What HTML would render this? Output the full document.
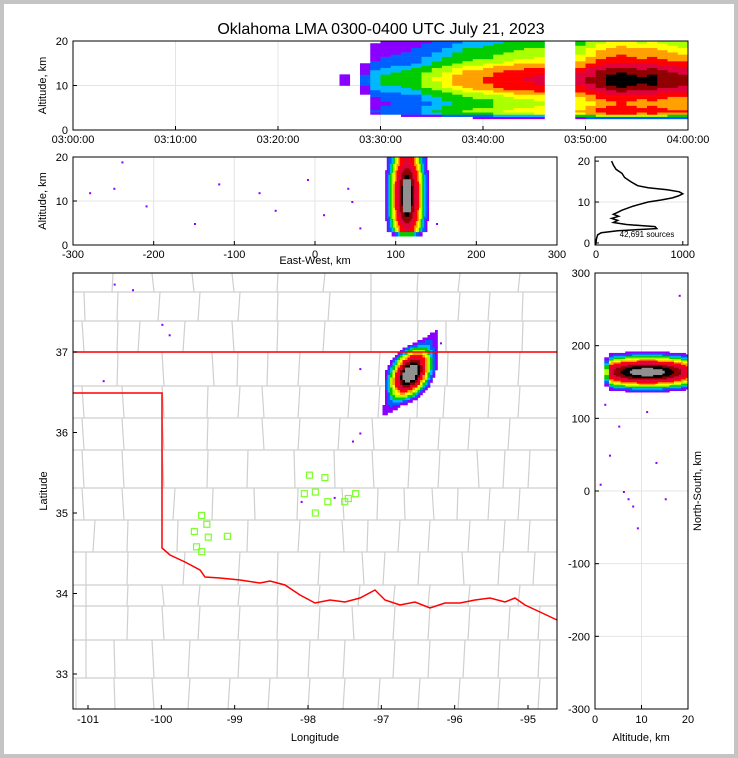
<!DOCTYPE html>
<html><head><meta charset="utf-8"><style>
html,body{margin:0;padding:0;background:#fff}
#wrap{position:relative;width:738px;height:758px;box-sizing:border-box;border:4px solid #c4c4c4;background:#fff;overflow:hidden}
svg text{font-family:"Liberation Sans",sans-serif;fill:#000}
</style></head><body>
<div id="wrap">
<svg id="s" width="730" height="750" viewBox="4 4 730 750" xmlns="http://www.w3.org/2000/svg">
<text x="381" y="34" font-size="16" text-anchor="middle">Oklahoma LMA 0300-0400 UTC July 21, 2023</text>
<g id="g"></g>
</svg>
</div>
<script>
// ---- data ----
const timeTicks = ["03:00:00","03:10:00","03:20:00","03:30:00","03:40:00","03:50:00","04:00:00"];
const timeIntensity = [0,0,0,0,0,0,0,0,0,0,0,0.02,0,0,0,0,0,0,0.03,0,0,0,0.06,0.05,0.08,0.1,0.12,0.08,0.2,0.35,0.4,0.42,0.45,0.5,0.6,0.7,0.8,0.9,1.0,1.05,1.1,1.2,1.3,1.35,1.4,1.45,0,0,0,1.5,1.8,2.1,2.3,2.4,2.3,2.2,2.3,2.1,2.0,1.9];
const altProfileKm = [0,1,2,3,4,5,6,7,8,9,10,11,12,13,14,15,16,17,18,19,20];
const altProfileRel = [0,0,0,0.15,0.6,0.5,0.45,0.5,0.6,0.8,0.95,1.0,1.0,0.9,0.75,0.6,0.5,0.45,0.4,0.35,0.3];
const ewTicks = [-300,-200,-100,0,100,200,300];
const histAlt = [0,1,2,2.5,3,3.5,4,4.5,5,5.5,6,6.5,7,7.5,8,9,10,10.5,11,11.5,12,12.5,13,13.5,14,15,16,17,18,19,20];
const histCount = [0,5,20,60,250,700,680,350,200,250,180,260,200,250,300,430,600,750,880,950,1000,960,820,600,480,400,330,300,230,200,180];
const srcLabel = "42,691 sources";
const lonTicks = [-101,-100,-99,-98,-97,-96,-95];
const latTicks = [33,34,35,36,37];
const nsTicks = [-300,-200,-100,0,100,200,300];
const altTicks = [0,10,20];
const stormLon = -96.62, stormLat = 36.75;
const ewCenter = 113, ewWidth = 11;
const nsCenter = 163, nsWidth = 11;
const stationsLon = [-99.55,-99.45,-99.38,-99.36,-99.52,-99.45,-99.1,-97.98,-97.77,-97.9,-98.05,-97.73,-97.9,-97.5,-97.35,-97.45];
const stationsLat = [34.77,34.97,34.86,34.70,34.58,34.52,34.71,35.47,35.44,35.26,35.24,35.14,35.0,35.14,35.24,35.18];
const sparseLon = [-100.4,-100.65,-99.9,-96.2,-97.3,-97.65,-98.1,-100.8,-100.0,-97.4,-97.3];
const sparseLat = [37.78,37.85,37.22,37.12,36.8,35.2,35.15,36.65,37.35,35.9,36.0];
const sparseEW = [-250,-210,-150,-120,-70,-50,-10,10,40,45,55,-280,-240,150];
const sparseEWalt = [13,9,5,14,12,8,15,7,13,10,4,12,19,5];
const sparseNSalt = [1,3,5,7,9,11,13,2,6,8,15,18];
const sparseNS = [10,50,90,-10,-50,110,40,120,0,-20,-10,270];

// ---- helpers ----
const NS='http://www.w3.org/2000/svg';
const G=document.getElementById('g');
function el(tag,attrs,parent){const e=document.createElementNS(NS,tag);for(const k in attrs)e.setAttribute(k,attrs[k]);(parent||G).appendChild(e);return e;}
function lin(d0,d1,r0,r1){return v=>r0+(v-d0)*(r1-r0)/(d1-d0);}
const cmap=[[0.15,'#8a00ff'],[0.25,'#0060ff'],[0.38,'#00b8ff'],[0.5,'#00cc00'],[0.7,'#aaff00'],[0.9,'#ffff00'],[1.1,'#ffa000'],[1.4,'#ff0000'],[1.8,'#e0003c'],[2.3,'#900000'],[2.8,'#000000'],[3.3,'#909090'],[99,'#ffffff']];
function col(d){if(d<cmap[0][0])return null;for(let i=cmap.length-1;i>=0;i--){if(d>=cmap[i][0])return cmap[i][1];}return null;}
function interp(xs,ys,x){if(x<=xs[0])return ys[0];for(let i=1;i<xs.length;i++){if(x<=xs[i]){const t=(x-xs[i-1])/(xs[i]-xs[i-1]);return ys[i-1]+t*(ys[i]-ys[i-1]);}}return ys[ys.length-1];}
function frame(x,y,w,h,name){const r=el('rect',{x,y,width:w,height:h,fill:'none',stroke:'#000','stroke-width':1});}
function txt(x,y,s,anchor,size,name,rot){const t=el('text',{x,y,'font-size':size||11,'text-anchor':anchor||'middle'});if(rot)t.setAttribute('transform',`rotate(-90 ${x} ${y})`);t.textContent=s;return t;}
function grid(x1,y1,x2,y2){const l=el('line',{x1,y1,x2,y2,stroke:'#e4e4e4','stroke-width':1});}
function tick(x1,y1,x2,y2){const l=el('line',{x1,y1,x2,y2,stroke:'#000','stroke-width':1});}
function cell(x,y,w,h,c,name){const r=el('rect',{x,y,width:w,height:h,fill:c});}

// ---- Panel 1: time-altitude ----
{const X0=73,X1=688,Y0=41,Y1=130;
const tx=lin(0,60,X0,X1), ay=lin(0,20,Y1,Y0);
for(let i=0;i<timeTicks.length;i++){grid(tx(i*10),Y0,tx(i*10),Y1);}
grid(X0,ay(10),X1,ay(10));
for(let m=0;m<60;m++){const I=timeIntensity[m];if(!I)continue;
 for(let a=0;a<20;a+=0.5){const d=I*interp(altProfileKm,altProfileRel,a+0.25)*1.3;const c=col(d);if(c)cell(tx(m),ay(a+0.5),tx(m+1)-tx(m)+0.3,ay(a)-ay(a+0.5)+0.3,c,'source-density-cell');}}
frame(X0,Y0,X1-X0,Y1-Y0,'time-altitude-panel');
timeTicks.forEach((s,i)=>{tick(tx(i*10),Y1,tx(i*10),Y1-4);txt(tx(i*10),Y1+13,s,'middle',11,'time-tick-label');});
altTicks.forEach(v=>{tick(X0,ay(v),X0+4,ay(v));txt(X0-5,ay(v)+4,String(v),'end',11,'altitude-tick-label');});
txt(46,(Y0+Y1)/2,'Altitude, km','middle',11,'y-axis-title',true);}

// ---- Panel 2: EW-altitude ----
{const X0=73,X1=557,Y0=157,Y1=245;
const ex=lin(-300,300,X0,X1), ay=lin(0,20,Y1,Y0);
ewTicks.forEach(v=>grid(ex(v),Y0,ex(v),Y1));grid(X0,ay(10),X1,ay(10));
for(let k=0;k<sparseEW.length;k++)cell(ex(sparseEW[k]),ay(sparseEWalt[k]),2,2,'#8a00ff','sparse-source');
for(let e=ewCenter-40;e<ewCenter+40;e+=2){for(let a=2;a<20;a+=0.5){
 const dx=(e-ewCenter)/ewWidth, da=(a-11)/5;
 const core=Math.abs(dx)<0.4&&a>7&&a<15?1.25:1;
 const d=3.4*Math.exp(-dx*dx/2)*(a<3?0.35:1)*Math.max(0.55,1-0.2*da*da)*core;
 const c=col(d);if(c)cell(ex(e),ay(a+0.5),ex(e+2)-ex(e)+0.3,ay(a)-ay(a+0.5)+0.3,c,'ew-density-cell');}}
frame(X0,Y0,X1-X0,Y1-Y0,'east-west-panel');
ewTicks.forEach(v=>{tick(ex(v),Y1,ex(v),Y1-4);txt(ex(v),Y1+13,String(v),'middle',11,'ew-tick-label');});
altTicks.forEach(v=>{tick(X0,ay(v),X0+4,ay(v));txt(X0-5,ay(v)+4,String(v),'end',11,'altitude-tick-label');});
txt(46,(Y0+Y1)/2,'Altitude, km','middle',11,'y-axis-title',true);
txt(315,264,'East-West, km','middle',11,'x-axis-title');}

// ---- Panel 3: altitude histogram ----
{const X0=595,X1=688,Y0=157,Y1=245;
const hx=lin(0,1060,X0+1,X1), ay=lin(-0.5,21,Y1,Y0);
grid(X0,ay(10),X1,ay(10));
let d='';histAlt.forEach((a,i)=>{d+=(i?'L':'M')+hx(histCount[i]).toFixed(1)+','+ay(a).toFixed(1);});
const p=el('path',{d,fill:'none',stroke:'#000','stroke-width':1.5});
frame(X0,Y0,X1-X0,Y1-Y0,'altitude-histogram-panel');
[0,1000].forEach(v=>{tick(hx(v),Y1,hx(v),Y1-4);txt(hx(v),Y1+13,String(v),'middle',11,'count-tick-label');});
altTicks.forEach(v=>{tick(X0,ay(v),X0+4,ay(v));txt(X0-5,ay(v)+4,String(v),'end',11,'altitude-tick-label');});
txt(647,237,srcLabel,'middle',8,'source-count-label');}

// ---- Panel 4: map ----
{const X0=73,X1=557,Y0=273,Y1=709;
const lx=lin(-101,-95,88,528), ly=lin(33,37,674,352);
const cg=el('g',{fill:'none',stroke:'#cfcfcf','stroke-width':1.2});
const bands=[[273,292,[113,152,192,232,278,325,371,418,460,520]],[292,321,[84,118,160,200,240,278,330,371,418,460,490,523]],[321,352,[82,118,140,185,232,278,325,371,418,446,490,523]],[352,386,[118,162,212,238,268,300,350,380,418,448,490,520]],[386,418,[82,122,162,208,240,262,300,350,380,418,445,490,520]],[418,450,[82,122,162,208,262,300,340,372,410,440,470,510]],[450,488,[82,122,162,208,248,294,334,372,410,440,477,505,530]],[488,520,[82,122,175,213,254,298,342,378,404,432,458,490,520]],[520,552,[95,128,178,248,300,342,368,400,430,470,505,530]],[552,585,[86,128,185,240,278,320,362,385,420,462,500,535]],[585,606,[86,128,162,200,240,278,320,360,395,430,470,520]],[606,640,[86,128,162,200,240,278,320,352,395,430,470,510,540]],[640,678,[86,114,152,190,240,278,310,345,395,430,465,500,540]],[678,709,[76,114,152,190,230,270,310,345,380,420,460,500,540]]];
bands.forEach(b=>{el('line',{x1:X0,y1:b[0],x2:X1,y2:b[0]},cg);b[2].forEach(x=>el('line',{x1:x,y1:b[0],x2:x+((x*7)%5-2),y2:b[1]},cg));});
for(let k=0;k<sparseLon.length;k++)cell(lx(sparseLon[k]),ly(sparseLat[k]),2,2,'#8a00ff','sparse-source');
const ux=Math.cos(-1.0),uy=Math.sin(-1.0);
for(let px=360;px<450;px+=2.5){for(let py=310;py<430;py+=2.5){
 const dx=px-lx(stormLon), dy=py-ly(stormLat);
 const along=dx*ux+dy*uy, across=-dx*uy+dy*ux;
 const d=3.9*Math.exp(-(along*along)/(2*13*13)-(across*across)/(2*9*9))+0.35*Math.exp(-(along*along)/(2*38*38)-(across*across)/(2*6*6));
 const c=col(d);if(c)cell(px,py,2.8,2.8,c,'map-density-cell');}}
const red='M73,352L557,352M73,393L162,393L162,548L170,555L185,562L200,570L205,577L220,578L240,580L260,583L270,581L285,585L300,595L315,603L330,600L345,602L360,598L375,590L385,600L400,605L415,602L430,608L445,603L460,603L475,600L490,598L505,602L515,598L525,605L540,612L557,620';
const r=el('path',{d:red,fill:'none',stroke:'#ff0000','stroke-width':1.5});
for(let k=0;k<stationsLon.length;k++){const s=el('rect',{x:lx(stationsLon[k])-3,y:ly(stationsLat[k])-3,width:6,height:6,fill:'none',stroke:'#7cff2a','stroke-width':1.2});}
frame(X0,Y0,X1-X0,Y1-Y0,'map-panel');
lonTicks.forEach(v=>{tick(lx(v),Y1,lx(v),Y1-4);txt(lx(v),Y1+14,String(v),'middle',11,'longitude-tick-label');});
latTicks.forEach(v=>{tick(X0,ly(v),X0+4,ly(v));txt(X0-5,ly(v)+4,String(v),'end',11,'latitude-tick-label');});
txt(315,741,'Longitude','middle',11,'x-axis-title');
txt(47,491,'Latitude','middle',11,'y-axis-title',true);}

// ---- Panel 5: altitude vs NS ----
{const X0=595,X1=688,Y0=273,Y1=709;
const ax=lin(0,20,X0,X1), ny=lin(-300,300,Y1,Y0);
[10].forEach(v=>grid(ax(v),Y0,ax(v),Y1));nsTicks.forEach(v=>grid(X0,ny(v),X1,ny(v)));
for(let k=0;k<sparseNS.length;k++)cell(ax(sparseNSalt[k]),ny(sparseNS[k]),2,2,'#8a00ff','sparse-source');
for(let a=2;a<20;a+=0.5){for(let n=100;n<230;n+=2){
 const dn=(n-nsCenter)/nsWidth, da=(a-11)/7;
 const d=3.7*Math.exp(-dn*dn/2)*Math.max(0.5,1-0.35*da*da)*(a<3?0.4:1);
 const c=col(d);if(c)cell(ax(a),ny(n+2),ax(a+0.5)-ax(a)+0.3,ny(n)-ny(n+2)+0.3,c,'ns-density-cell');}}
frame(X0,Y0,X1-X0,Y1-Y0,'north-south-panel');
altTicks.forEach(v=>{tick(ax(v),Y1,ax(v),Y1-4);txt(ax(v),Y1+14,String(v),'middle',11,'altitude-tick-label');});
nsTicks.forEach(v=>{tick(X0,ny(v),X0+4,ny(v));txt(X0-5,ny(v)+4,String(v),'end',11,'ns-tick-label');});
txt(641,741,'Altitude, km','middle',11,'x-axis-title');
txt(701,491,'North-South, km','middle',11,'y-axis-title',true);}
</script>
</body></html>
